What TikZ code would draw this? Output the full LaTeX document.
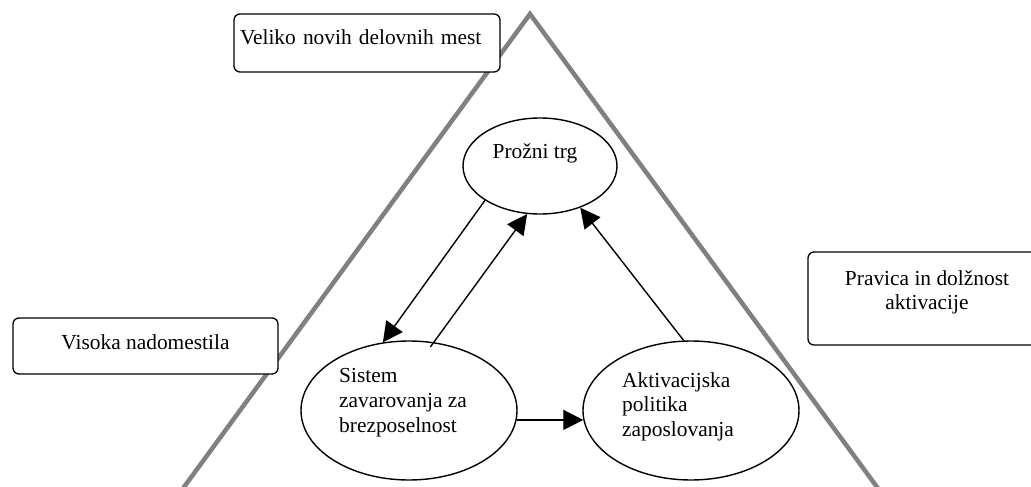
\documentclass[tikz,border=0pt]{standalone}
\usepackage{fontspec}
\setmainfont{Liberation Serif}
\usepackage{tikz}
\usetikzlibrary{shapes.geometric, arrows.meta, positioning}
\newcommand\Lbl{\fontsize{21.4}{24.6}\selectfont}

\begin{document}
\begin{tikzpicture}[x=1pt, y=-1pt,
    txt/.style = {inner sep=0pt, font=\Lbl},
    ovalnode/.style = {ellipse, draw, line width=1.4pt, fill=white, inner sep=0pt},
    roundbox/.style = {draw, rounded corners=6pt, line width=1.3pt, fill=white, inner sep=0pt, font=\Lbl},
    flow/.style = {line width=1.4pt, -{Triangle[length=20pt, width=20pt]}},
    wedge/.style = {draw=gray, line width=4.5pt}]
  \useasboundingbox (0,0) rectangle (1031,487);
  \clip (0,0) rectangle (1031,487);
  % big triangle
  \coordinate (apex) at (530,14);
  \coordinate (baseL) at (176.7,497);
  \coordinate (baseR) at (884.3,497);
  \draw[wedge] (baseL) -- (apex) -- (baseR);
  % boxes
  \node[roundbox, minimum width=266pt, minimum height=58pt, text width=254pt, align=left,
        text height=14.6pt, text depth=10.6pt] (jobs) at (367,43) {Veliko novih delovnih mest};
  \node[roundbox, minimum width=265pt, minimum height=56pt,
        text height=14.6pt, text depth=8.6pt] (benefits) at (145.5,346) {Visoka nadomestila};
  \node[roundbox, minimum width=238pt, minimum height=93pt] (rights) at (927,298.5) {};
  \node[txt, align=center] (rightstxt) at (927,292.3) {Pravica in dolžnost\\aktivacije};
  % ellipses
  \node[ovalnode, minimum width=154pt, minimum height=96pt] (market) at (540,166) {};
  \node[ovalnode, minimum width=216pt, minimum height=139pt] (insur) at (409,410.5) {};
  \node[ovalnode, minimum width=216pt, minimum height=139pt] (activ) at (691,410.5) {};
  \node[txt, anchor=base] (markettxt) at (535,158) {Prožni trg};
  \node[txt, align=left, anchor=west] (insurtxt) at (339,402.7) {Sistem\\zavarovanja za\\brezposelnost};
  \node[txt, align=left, anchor=west] (activtxt) at (622,406.6) {Aktivacijska\\politika\\zaposlovanja};
  % arrows
  \draw[flow] (market.212.5) -- (insur.111);
  \draw[flow, shorten <=-6pt] (insur.70) -- (market.255.7);
  \draw[flow] (activ.96.6) -- (market.314.3);
  \draw[flow] (insur.-5) -- (activ.185);
\end{tikzpicture}
\end{document}
